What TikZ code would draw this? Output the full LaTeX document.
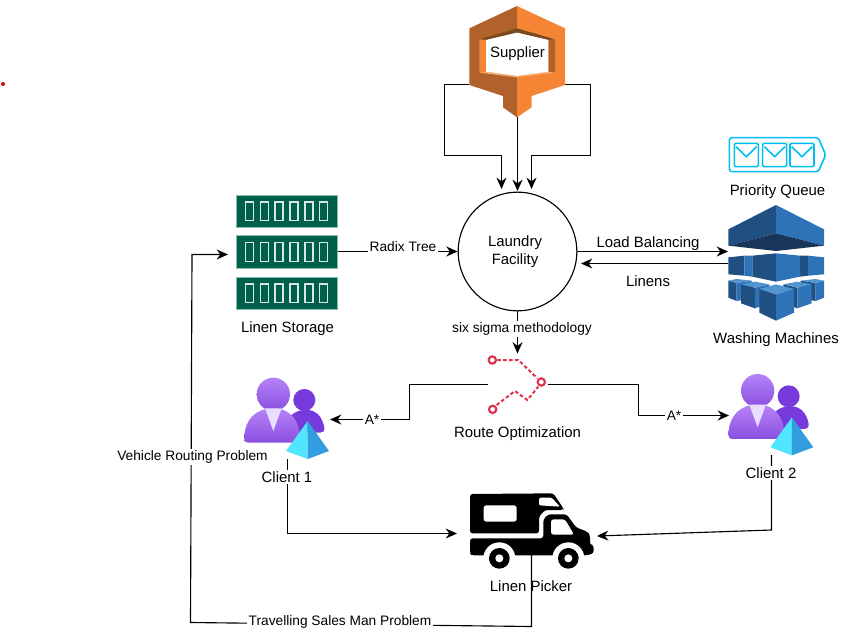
\documentclass[tikz,border=0pt]{standalone}
\usepackage{fontspec}
\setmainfont{Liberation Sans}
\usetikzlibrary{arrows.meta}
\definecolor{awsdark}{HTML}{B0622A}
\definecolor{awsorange}{HTML}{F58534}
\definecolor{awsbrown}{HTML}{7A4A20}
\definecolor{awslight}{HTML}{FBAA6E}
\definecolor{queuecyan}{HTML}{00BEF2}
\definecolor{bluedark}{HTML}{205081}
\definecolor{bluemid}{HTML}{2E73B8}
\definecolor{bluedeep}{HTML}{19365A}
\definecolor{bluetop}{HTML}{5294CF}
\definecolor{storegreen}{HTML}{005F4B}
\definecolor{storeedge}{HTML}{86BDB0}
\definecolor{routered}{HTML}{E0304F}
\definecolor{clientback}{HTML}{773ADC}
\definecolor{clientlight}{HTML}{B583F8}
\definecolor{clientmid}{HTML}{8A50DF}
\definecolor{clienttie}{HTML}{E9DEFF}
\definecolor{pyramidleft}{HTML}{50E6FF}
\definecolor{pyramidright}{HTML}{329EE0}
\tikzset{
  bigtext/.style={font=\fontsize{11.2pt}{13.4pt}\selectfont,align=center,inner sep=0pt},
  smalltext/.style={font=\fontsize{10.3pt}{12.4pt}\selectfont,align=center,inner sep=1pt},
  cutlabel/.style={smalltext,fill=white},
  iconbox/.style={inner sep=0pt,outer sep=0pt,minimum width=#1},
  link/.style={line width=.85pt},
  arrow/.style={link,-{Stealth[length=8.5pt,width=7.5pt]}},
  zoomed/.style={shift={#1},x=.25pt,y=-.25pt},
  pics/client/.style={code={
    \fill[clientback] (208,105) circle (33);
    \fill[clientback] (165,155) .. controls (185,130) and (235,125) .. (255,155)
      .. controls (265,170) and (268,185) .. (268,190)
      .. controls (268,200) and (262,203) .. (255,203) -- (190,203) -- cycle;
    \shade[top color=clientlight,bottom color=clientmid] (115,88) circle (50);
    \shade[top color=clientlight,bottom color=clientmid] (40,233)
      .. controls (28,233) and (27,225) .. (28,210)
      .. controls (32,165) and (60,130) .. (115,130)
      .. controls (170,130) and (195,170) .. (197,233) -- cycle;
    \fill[clienttie] (90,130) -- (140,130) -- (115,198) -- cycle;
    \fill[pyramidleft] (218,168) -- (153,258) -- (218,282) -- cycle;
    \fill[pyramidright] (218,168) -- (282,258) -- (218,282) -- cycle;
  }}
}
\begin{document}
\begin{tikzpicture}[x=.75pt,y=-.75pt]
  \useasboundingbox (0,0) rectangle (845,642);
  \fill[red!85!black] (3,84) circle (2);

  \node[iconbox=72pt,minimum height=83.25pt] (supplier) at (517.5,61.6) {};
  \node[draw,circle,link,minimum size=89pt,inner sep=0pt] (facility) at (517.5,251.5) {};
  \node[iconbox=75.75pt,minimum height=86pt] (storage) at (287,251.5) {};
  \node[iconbox=72pt,minimum height=84pt] (washing) at (776,263) {};
  \node[iconbox=45pt,minimum height=46.5pt] (route) at (517.5,384.5) {};
  \node[iconbox=92.25pt,minimum height=46.5pt] (picker) at (531.5,524) {};
  \coordinate (client1out) at (287.5,459);
  \coordinate (client2out) at (771.5,455);
  \coordinate (client1in) at (330,419.5);
  \coordinate (client2in) at (729,415.5);
  \coordinate (supplierL) at (469,84.5);
  \coordinate (supplierR) at (565,84.5);
  \coordinate (facilityL) at (501.5,189);
  \coordinate (facilityR) at (531.5,189);
  \coordinate (facilityT) at (517.5,191);
  \coordinate (supplierB) at (517.5,116);
  \coordinate (storageIn) at (228,254.5);
  \coordinate (washingIn) at (728,251.5);
  \coordinate (washingOut) at (728,263.5);
  \coordinate (facilityIn) at (581,263.5);
  \coordinate (pickerL) at (457,533.5);
  \coordinate (pickerR) at (597,536);

  \draw[arrow] (supplierL) -- (444.5,84.5) -- (444.5,155.5) -- (501.5,155.5) -- (facilityL);
  \draw[arrow] (supplierB) -- (facilityT);
  \draw[arrow] (supplierR) -- (590.5,84.5) -- (590.5,155.5) -- (531.5,155.5) -- (facilityR);
  \draw[arrow] (storage.east) -- (facility.west);
  \draw[arrow] (facility.east) -- (washingIn);
  \draw[arrow] (washingOut) -- (facilityIn);
  \draw[arrow] (facility.south) -- (route.north);
  \draw[arrow] (route.west) -- (409.5,384.5) -- (409.5,419.5) -- (client1in);
  \draw[arrow] (route.east) -- (638.5,384.5) -- (638.5,415.5) -- (client2in);
  \draw[arrow] (client1out) -- (287.5,533.5) -- (pickerL);
  \draw[arrow] (client2out) -- (771.5,530) -- (pickerR);
  \draw[arrow] (picker.south) -- (531.5,626.5) -- (190.5,622.5) -- (192,254.5) -- (storageIn);

  \node[bigtext] (facilitylabel) at (515,252) {Laundry\\Facility};
  \node[cutlabel] (radix) at (403,247) {Radix Tree};
  \node[bigtext] (balancing) at (648,244) {Load Balancing};
  \node[bigtext] (linens) at (648,281) {Linens};
  \node[cutlabel] (sigma) at (522,329) {six sigma methodology};
  \node[cutlabel] (astar1) at (372,420) {A*};
  \node[cutlabel] (astar2) at (674,416) {A*};
  \node[cutlabel] (vehicle) at (192.5,457) {Vehicle Routing Problem};
  \node[cutlabel] (travelling) at (340,622) {Travelling Sales Man Problem};
  \node[bigtext,fill=white,inner sep=1pt] (client1) at (287,477) {Client 1};
  \node[bigtext,fill=white,inner sep=1pt] (client2) at (771,473) {Client 2};

  % supplier
  \begin{scope}[zoomed={(430,0)}]
    \fill[awsdark] (261,18) -- (118,85) -- (118,255) -- (219,288) -- (219,322) -- (261,352) -- cycle;
    \fill[awsorange] (261,18) -- (405,85) -- (405,255) -- (305,288) -- (305,322) -- (261,352) -- cycle;
    \fill[awsbrown] (148,118) -- (261,85) -- (375,118) -- (355,120) -- (261,98) -- (168,120) -- cycle;
    \fill[awsorange] (148,118) -- (168,120) -- (168,215) -- (148,218) -- cycle;
    \fill[awsdark] (375,118) -- (355,120) -- (355,215) -- (375,218) -- cycle;
    \fill[awslight] (148,218) -- (168,215) -- (261,228) -- (355,215) -- (375,218) -- (261,232) -- cycle;
    \fill[white] (168,120) -- (261,98) -- (355,120) -- (355,215) -- (261,228) -- (168,215) -- cycle;
  \end{scope}
  \node[bigtext] (supplierlabel) at (517.5,54) {Supplier};

  % priority queue
  \begin{scope}[zoomed={(700,125)}]
    \draw[queuecyan,line width=1.2pt,rounded corners=2pt] (88,38) -- (355,38) -- (377,90) -- (355,140) -- (88,140) -- cycle;
    \foreach \envx in {103,188,270} {
      \draw[queuecyan,line width=1.2pt,rounded corners=1pt] (\envx,55) rectangle ++(72,70);
      \draw[queuecyan,line width=1.2pt] (\envx+5,65) -- (\envx+36,95) -- (\envx+67,65);
    }
  \end{scope}
  \node[bigtext] (queuelabel) at (777.5,192) {Priority Queue};

  % washing machines
  \begin{scope}[zoomed={(700,125)}]
    \fill[bluedark] (228,240) -- (85,313) -- (85,362) -- (228,325) -- cycle;
    \fill[bluemid] (228,240) -- (372,313) -- (372,362) -- (228,325) -- cycle;
    \fill[bluedeep] (85,362) -- (228,325) -- (372,362) -- (228,378) -- cycle;
    \fill[bluedark] (85,397) -- (133,392) -- (133,452) -- (85,448) -- cycle;
    \fill[bluemid] (133,392) -- (157,392) -- (157,455) -- (133,452) -- cycle;
    \fill[bluedark] (300,392) -- (324,392) -- (324,452) -- (300,455) -- cycle;
    \fill[bluemid] (324,392) -- (372,397) -- (372,448) -- (324,452) -- cycle;
    \fill[bluedark] (157,392) -- (228,385) -- (228,470) -- (157,455) -- cycle;
    \fill[bluemid] (228,385) -- (300,392) -- (300,455) -- (228,470) -- cycle;
    % back cubes
    \fill[bluedark] (85,467) -- (110,474) -- (110,528) -- (85,518) -- cycle;
    \fill[bluemid] (110,474) -- (155,467) -- (155,520) -- (110,528) -- cycle;
    \fill[bluetop] (85,467) -- (110,462) -- (155,467) -- (110,474) -- cycle;
    \fill[bluedark] (302,467) -- (347,474) -- (347,528) -- (302,520) -- cycle;
    \fill[bluemid] (347,474) -- (372,467) -- (372,518) -- (347,528) -- cycle;
    \fill[bluetop] (302,467) -- (347,462) -- (372,467) -- (347,474) -- cycle;
    % middle cubes
    \fill[bluedark] (123,478) -- (165,488) -- (165,550) -- (123,535) -- cycle;
    \fill[bluemid] (165,488) -- (208,478) -- (208,535) -- (165,550) -- cycle;
    \fill[bluetop] (123,478) -- (165,470) -- (208,478) -- (165,488) -- cycle;
    \fill[bluedark] (250,478) -- (292,488) -- (292,550) -- (250,535) -- cycle;
    \fill[bluemid] (292,488) -- (335,478) -- (335,535) -- (292,550) -- cycle;
    \fill[bluetop] (250,478) -- (292,470) -- (335,478) -- (292,488) -- cycle;
    % front cube
    \fill[bluedark] (178,492) -- (228,508) -- (228,587) -- (178,563) -- cycle;
    \fill[bluemid] (228,508) -- (282,492) -- (282,563) -- (228,587) -- cycle;
    \fill[bluetop] (178,492) -- (228,478) -- (282,492) -- (228,508) -- cycle;
  \end{scope}
  \node[bigtext] (washinglabel) at (776,340) {Washing Machines};

  % linen storage
  \begin{scope}[zoomed={(225,185)}]
    \foreach \bary in {30,152,276} {
      \draw[storeedge,fill=storegreen,line width=.3pt] (33,\bary) rectangle (336,\bary+98);
      \foreach \slotx in {62,106,150,195,240,284}
        \draw[white!85!storegreen,line width=1pt] (\slotx,\bary+21) rectangle (\slotx+24,\bary+77);
    }
  \end{scope}
  \node[bigtext] (storagelabel) at (287.5,329) {Linen Storage};

  % route optimization
  \begin{scope}[zoomed={(450,340)}]
    \draw[routered,line width=1.5pt,dash pattern=on 2.6pt off 1.8pt] (142,60) -- (205,60) -- (262,115);
    \draw[routered,line width=1.5pt,dash pattern=on 2.6pt off 1.8pt] (140,195) -- (195,153) -- (232,180) -- (265,140);
    \foreach \portx/\porty in {127/60,128/208,274/126}
      \draw[routered,line width=1.6pt,fill=white] (\portx,\porty) circle (11);
  \end{scope}
  \node[bigtext] (routelabel) at (517.5,434) {Route Optimization};

  % clients
  \begin{scope}[zoomed={(235,365)}]
    \pic {client};
  \end{scope}
  \begin{scope}[zoomed={(719.3,361.3)}]
    \pic {client};
  \end{scope}

  % linen picker
  \begin{scope}[zoomed={(450,480)}]
    \fill[rounded corners=2pt] (60,160) -- (60,42) -- (310,40) -- (340,85) -- (340,90) -- (285,90) -- (267,110) -- (267,160) -- cycle;
    \fill[white,rounded corners=1pt] (267,53) -- (305,53) -- (330,80) -- (267,76) -- cycle;
    \fill[white,rounded corners=2pt] (101,76) rectangle (200,125);
    \fill[rounded corners=2pt] (60,175) -- (280,175) -- (280,118) -- (295,103) -- (350,103) -- (378,142) -- (412,155) -- (420,165) -- (420,195) -- (431,195) -- (431,220) -- (410,226) -- (100,226) -- (65,226) -- (60,220) -- cycle;
    \fill[white,rounded corners=2pt] (303,118) -- (345,118) -- (372,164) -- (303,164) -- cycle;
    \fill[white] (148,235) circle (48);
    \fill[white] (355,235) circle (48);
    \fill (148,235) circle (31);
    \fill (355,235) circle (31);
    \fill[white] (148,235) circle (12);
    \fill[white] (355,235) circle (12);
  \end{scope}
  \node[bigtext] (pickerlabel) at (531,586) {Linen Picker};
\end{tikzpicture}
\end{document}
